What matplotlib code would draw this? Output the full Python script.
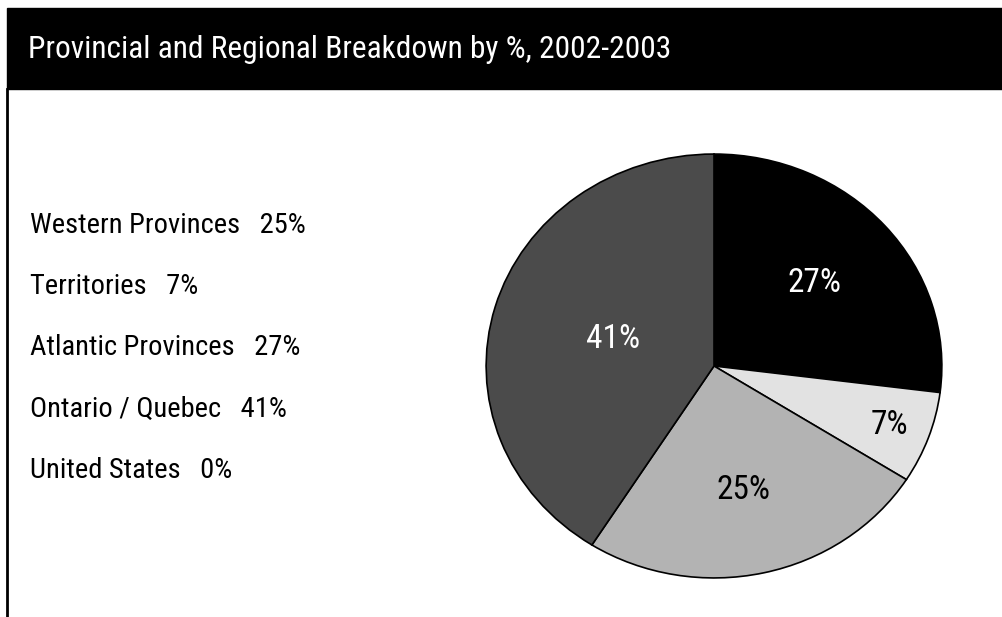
import matplotlib.pyplot as plt
import numpy as np
from matplotlib.patches import Rectangle
from matplotlib.lines import Line2D

plt.rcParams['font.family'] = ['Liberation Sans Narrow', 'Roboto Condensed',
                               'DejaVu Sans Condensed', 'DejaVu Sans']
plt.rcParams['font.stretch'] = 'condensed'

# share of each region, 2002-2003
regions = ["Western Provinces", "Territories", "Atlantic Provinces",
           "Ontario / Quebec", "United States"]
shares = [25, 7, 27, 41, 0]

# pie order, clockwise from the top
pie_regions = ["Atlantic Provinces", "Territories", "Western Provinces", "Ontario / Quebec"]
pie_colors = ["#000000", "#e2e2e2", "#b3b3b3", "#4b4b4b"]
label_colors = ["white", "black", "black", "white"]
label_radius = [0.59, 0.82, 0.6, 0.46]

W, H = 1003, 617
fig = plt.figure(figsize=(W / 100, H / 100), dpi=100)

# header bar and left border
fig.patches.append(Rectangle((7 / W, 1 - 89 / H), 1 - 7 / W, 81 / H,
                             transform=fig.transFigure, color="black", zorder=0))
fig.lines.append(Line2D([7.5 / W, 7.5 / W], [0, 1 - 89 / H], transform=fig.transFigure,
                        color="black", lw=2))
fig.text(28 / W, 1 - 49 / H, "Provincial and Regional Breakdown by %, 2002-2003",
         color="white", fontsize=22.6, va="center", ha="left")

# text list on the left
for i, (name, s) in enumerate(zip(regions, shares)):
    fig.text(30 / W, 1 - (226 + 61 * i) / H, f"{name}   {s}%",
             fontsize=20.5, va="center", ha="left")

# pie (drawn a little wider than tall)
ax = fig.add_axes([485 / W, 38 / H, 458 / W, 426 / H])
vals = [shares[regions.index(r)] for r in pie_regions]
wedges, _ = ax.pie(vals, colors=pie_colors, startangle=90, counterclock=False,
                   wedgeprops=dict(edgecolor="black", linewidth=1.2))
ax.set_aspect("auto")
ax.set_xlim(-1.005, 1.005)
ax.set_ylim(-1.005, 1.005)

for w, v, c, r in zip(wedges, vals, label_colors, label_radius):
    mid = np.deg2rad((w.theta1 + w.theta2) / 2)
    ax.text(r * np.cos(mid), r * np.sin(mid), f"{v}%", color=c,
            fontsize=24, ha="center", va="center")

fig.savefig("out.png", dpi=100)
